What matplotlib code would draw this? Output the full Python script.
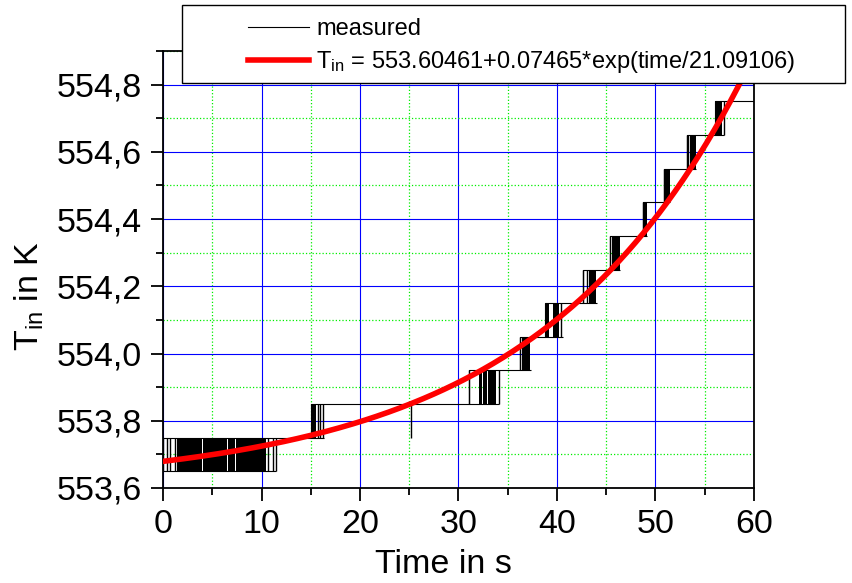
import numpy as np
import matplotlib
matplotlib.use('Agg')
import matplotlib.pyplot as plt
from matplotlib.patches import Rectangle
from matplotlib.lines import Line2D
from matplotlib.ticker import MultipleLocator, FuncFormatter

plt.rcParams['font.family'] = 'Liberation Sans'
plt.rcParams['mathtext.fontset'] = 'custom'
plt.rcParams['mathtext.rm'] = 'Liberation Sans'
plt.rcParams['mathtext.it'] = 'Liberation Sans'

# --- data ---
# the sensor reads in 0.1 K steps; in each burst it flips between a level and the next one
burst_low = [553.65, 553.75, 553.85, 553.95, 554.05, 554.15, 554.25, 554.35, 554.45, 554.55, 554.65]
burst_start = [0.0, 15.0, 31.1, 36.2, 38.8, 42.6, 45.4, 48.7, 50.9, 53.2, 56.0]
burst_end = [11.45, 16.3, 34.1, 37.4, 40.6, 44.1, 46.4, 49.1, 51.5, 54.1, 57.0]
level_step = 0.1
t_end = 60.0

# parts of a burst that flip so fast they look solid black
dense_t0 = [1.4, 4.05, 6.55, 7.45, 15.0, 32.1, 32.45, 32.95, 36.4, 38.85, 39.6, 43.2, 45.6, 48.85, 51.0, 53.5, 56.0]
dense_t1 = [3.95, 6.45, 7.35, 10.5, 15.5, 32.35, 32.85, 33.8, 37.3, 39.15, 40.25, 44.0, 46.35, 49.1, 51.5, 54.1, 56.75]
dense_low = [553.65, 553.65, 553.65, 553.65, 553.75, 553.85, 553.85, 553.85, 553.95, 554.05, 554.05,
             554.15, 554.25, 554.35, 554.45, 554.55, 554.65]

# single flips
flip_t = [0.0, 0.4, 0.7, 1.2, 10.7, 11.2, 11.45, 15.7, 15.9, 16.2, 25.2, 31.1, 34.1, 36.25,
          40.45, 42.65, 43.0, 45.4, 48.7, 50.9, 53.2, 53.35, 57.0]
flip_low = [553.65, 553.65, 553.65, 553.65, 553.65, 553.65, 553.65, 553.75, 553.75, 553.75, 553.75,
            553.85, 553.85, 553.95, 554.05, 554.15, 554.15, 554.25, 554.35, 554.45, 554.55, 554.55, 554.65]

# fit given in the legend
fit_a = 553.60461
fit_b = 0.07465
fit_c = 21.09106

# --- figure ---
fig = plt.figure(figsize=(8.53, 5.83), dpi=100)
ax = fig.add_axes([163 / 853, 95 / 583, 591 / 853, 437 / 583])

lw_meas = 0.8
step_t = burst_start + [t_end]
step_T = [lo + level_step for lo in burst_low] + [burst_low[-1] + level_step]
ax.step(step_t, step_T, where='post', color='black', lw=lw_meas, zorder=3)
ax.hlines(burst_low, burst_start, burst_end, color='black', lw=lw_meas, zorder=3)
for t0, t1, lo in zip(dense_t0, dense_t1, dense_low):
    ax.fill_between([t0, t1], lo, lo + level_step, color='black', lw=0, zorder=3)
ax.vlines(flip_t, flip_low, [lo + level_step for lo in flip_low], color='black', lw=1.0, zorder=3)

t_fit = np.linspace(0, t_end, 300)
ax.plot(t_fit, fit_a + fit_b * np.exp(t_fit / fit_c), color='red', lw=4.0, zorder=4)

ax.set_xlim(0, 60)
ax.set_ylim(553.6, 554.9)
ax.xaxis.set_major_locator(MultipleLocator(10))
ax.xaxis.set_minor_locator(MultipleLocator(5))
ax.yaxis.set_major_locator(MultipleLocator(0.2))
ax.yaxis.set_minor_locator(MultipleLocator(0.1))
ax.yaxis.set_major_formatter(FuncFormatter(lambda v, p: f'{v:.1f}'.replace('.', ',')))

ax.set_axisbelow(True)
ax.grid(which='major', color='#0000ff', lw=0.8)
ax.grid(which='minor', color='#00ee00', ls=':', lw=0.9)

for s in ax.spines.values():
    s.set_linewidth(1.3)
ax.tick_params(which='major', direction='out', length=9, width=1.3, labelsize=24.5, pad=6)
ax.tick_params(which='minor', direction='out', length=5, width=1.3)

ax.set_xlabel('Time in s', fontsize=24.5)
ax.set_ylabel(r'T$_{\mathregular{in}}$ in K', fontsize=24.5)
ax.xaxis.set_label_coords(0.475, -0.14)
ax.yaxis.set_label_coords(-0.198, 0.44)

# legend box sits over the top of the axes
box = Rectangle((182 / 853, 1 - 83 / 583), (845 - 182) / 853, 78 / 583, transform=fig.transFigure,
                facecolor='white', edgecolor='black', lw=1.0, zorder=3)
fig.add_artist(box)
handles = [Line2D([], [], color='black', lw=lw_meas), Line2D([], [], color='red', lw=4.0)]
labels = ['measured', r'T$_{\mathregular{in}}$ = 553.60461+0.07465*exp(time/21.09106)']
fig.legend(handles, labels, loc='upper left', bbox_to_anchor=(236 / 853, 1 - 6 / 583), frameon=False,
           fontsize=17, handlelength=2.6, handletextpad=0.3, borderpad=0, labelspacing=0.4)

fig.savefig('out.png', dpi=100)
